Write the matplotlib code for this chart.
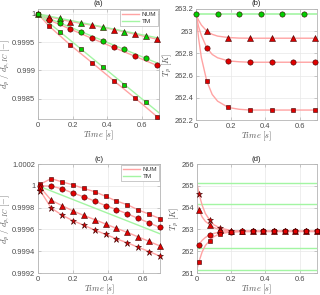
import matplotlib
matplotlib.use('Agg')
from matplotlib import pyplot as plt

plt.rcParams['font.family'] = ['Liberation Sans', 'DejaVu Sans']
plt.rcParams['mathtext.fontset'] = 'cm'

# ---- panel (a): diameter ratio, NUM markers / TM markers
t_num_a = [0.0625, 0.1875, 0.3125, 0.4375, 0.5625, 0.6875]
t_tm_a = [0.0, 0.125, 0.25, 0.375, 0.5, 0.625]
t_line_a = [0.0, 0.0625, 0.1875, 0.3125, 0.4375, 0.5625, 0.6875, 0.7]
num_a = {
    '^': [0.99995, 0.999865, 0.9998, 0.999724, 0.99964, 0.999553],
    'o': [0.999894, 0.99973, 0.999565, 0.999406, 0.999247, 0.999088],
    's': [0.999788, 0.999447, 0.999135, 0.998818, 0.998506, 0.998182],
}
num_line_a = {
    '^': [1.0, 0.99995, 0.999865, 0.9998, 0.999724, 0.99964, 0.999553, 0.999545],
    'o': [1.0, 0.999894, 0.99973, 0.999565, 0.999406, 0.999247, 0.999088, 0.99907],
    's': [1.0, 0.999788, 0.999447, 0.999135, 0.998818, 0.998506, 0.998182, 0.998165],
}
tm_a = {
    '^': [1.0, 0.99992, 0.999835, 0.999776, 0.99968, 0.999617],
    'o': [1.0, 0.999835, 0.999676, 0.999524, 0.99937, 0.999212],
    's': [1.0, 0.999676, 0.999376, 0.999059, 0.998747, 0.998435],
}
tm_line_t_a = [0.0, 0.7]
tm_line_a = {
    '^': [1.0, 0.999571],
    'o': [1.0, 0.999117],
    's': [1.0, 0.998247],
}

# ---- panel (b): droplet temperature
t_line_b = [0.0, 0.015, 0.03125, 0.0625, 0.09375, 0.125, 0.1875, 0.25, 0.3125, 0.7]
num_line_b = {
    '^': [263.15, 263.097, 263.054, 263.0, 262.971, 262.955, 262.942, 262.937, 262.936, 262.936],
    'o': [263.15, 263.04, 262.96, 262.85, 262.79, 262.76, 262.732, 262.724, 262.72, 262.72],
    's': [263.15, 262.935, 262.76, 262.55, 262.43, 262.37, 262.313, 262.297, 262.29, 262.29],
}
t_num_b = t_num_a
num_b = {
    '^': [263.0, 262.942, 262.936, 262.936, 262.936, 262.936],
    'o': [262.85, 262.732, 262.72, 262.72, 262.72, 262.72],
    's': [262.55, 262.313, 262.29, 262.29, 262.29, 262.29],
}
t_tm_b = t_tm_a
tm_b = [263.15, 263.15, 263.15, 263.15, 263.15, 263.15]
tm_line_b = [263.15, 263.15]

# ---- panel (c): diameter ratio, four initial temperatures
t_num_c = [0.0125, 0.075, 0.1375, 0.2, 0.2625, 0.325, 0.3875, 0.45,
           0.5125, 0.575, 0.6375, 0.7]
num_c = {
    's': [1.000015, 1.000066, 1.000036, 1.000009, 0.999976, 0.999946,
          0.999904, 0.99986, 0.999827, 0.999779, 0.99974, 0.999699],
    'o': [1.0, 0.999997, 0.999973, 0.999934, 0.999899, 0.99986,
          0.999818, 0.999782, 0.999743, 0.999701, 0.99966, 0.999618],
    '^': [0.999985, 0.999869, 0.999818, 0.99977, 0.999728, 0.99969,
          0.99965, 0.99961, 0.999573, 0.999531, 0.99949, 0.999448],
    '*': [0.999955, 0.999797, 0.999731, 0.99968, 0.999639, 0.999594,
          0.999555, 0.999513, 0.999478, 0.999436, 0.999397, 0.999355],
}
tm_line_t_c = [0.0, 0.7]
tm_line_c = [1.0, 0.99956]

# ---- panel (d): droplet temperature, four initial temperatures
t_line_d = [0.0, 0.0125, 0.03125, 0.05, 0.075, 0.1, 0.1375, 0.2, 0.2625, 0.7]
num_line_d = {
    '*': [265.15, 264.64, 264.11, 263.73, 263.43, 263.21, 263.06, 262.95, 262.92, 262.91],
    '^': [264.15, 263.9, 263.57, 263.37, 263.22, 263.08, 262.985, 262.93, 262.915, 262.91],
    'o': [262.15, 262.3, 262.5, 262.63, 262.75, 262.82, 262.88, 262.9, 262.91, 262.91],
    's': [261.15, 261.52, 261.97, 262.26, 262.49, 262.67, 262.81, 262.88, 262.9, 262.91],
}
t_num_d = t_num_c
num_d = {
    '*': [264.64, 263.43, 263.06, 262.95, 262.92] + [262.91] * 7,
    '^': [263.9, 263.22, 262.985, 262.93, 262.915] + [262.91] * 7,
    'o': [262.3, 262.75, 262.88, 262.9, 262.91] + [262.91] * 7,
    's': [261.52, 262.49, 262.81, 262.88, 262.9] + [262.91] * 7,
}
tm_line_t_d = [0.0, 0.7]
tm_levels_d = [265.15, 264.15, 262.15, 261.15]

x_ticks = [0, 0.2, 0.4, 0.6]
x_labels = ['0', '0.2', '0.4', '0.6']
y_ticks_a = [0.9985, 0.999, 0.9995, 1.0]
y_labels_a = ['0.9985', '0.999', '0.9995', '1']
y_ticks_b = [262.2, 262.4, 262.6, 262.8, 263.0, 263.2]
y_labels_b = ['262.2', '262.4', '262.6', '262.8', '263', '263.2']
y_ticks_c = [0.9992, 0.9994, 0.9996, 0.9998, 1.0, 1.0002]
y_labels_c = ['0.9992', '0.9994', '0.9996', '0.9998', '1', '1.0002']
y_ticks_d = [261, 262, 263, 264, 265, 266]
y_labels_d = ['261', '262', '263', '264', '265', '266']

NUM_LINE = '#ffa3a3'
TM_LINE = '#a3f5a3'
NUM_FILL = '#e00000'
TM_FILL = '#00d000'
EDGE = '#3a0000'
MS = {'s': 3.3, 'o': 3.8, '^': 3.8, '*': 5.0}

D_LABEL = r'$d_p\ /\ d_{p,IC}\ [-]$'
T_LABEL = r'$T_p\ [K]$'
TIME_LABEL = r'$Time\ [s]$'


def style_axes(ax, title, yticks, ylabels, ylim, ylabel):
    ax.set_xlim(0, 0.7)
    ax.set_ylim(*ylim)
    ax.set_xticks(x_ticks)
    ax.set_xticklabels(x_labels)
    ax.set_yticks(yticks)
    ax.set_yticklabels(ylabels)
    ax.grid(True, color='#e8e8e8', linewidth=0.5)
    ax.set_axisbelow(True)
    for sp in ax.spines.values():
        sp.set_color('#b4b4b4')
        sp.set_linewidth(0.6)
    ax.tick_params(direction='in', length=2, width=0.5, color='#b4b4b4',
                   labelsize=5.4, labelcolor='#4a4a4a', pad=2,
                   top=True, right=True)
    ax.set_title(title, fontsize=5.6, pad=2.5, color='#222222')
    ax.set_xlabel(TIME_LABEL, fontsize=6.0, labelpad=0, color='#555555')
    ax.set_ylabel(ylabel, fontsize=6.2, labelpad=0, color='#555555')


def put_legend(ax):
    h_num, = ax.plot([], [], color=NUM_LINE, lw=1.0, label='NUM')
    h_tm, = ax.plot([], [], color=TM_LINE, lw=1.0, label='TM')
    leg = ax.legend(handles=[h_num, h_tm], loc='upper right', fontsize=4.6,
                    frameon=True, fancybox=False, framealpha=1,
                    borderaxespad=0.15, handlelength=2.6, handletextpad=0.4,
                    borderpad=0.3, labelspacing=0.2)
    leg.get_frame().set_edgecolor('#b4b4b4')
    leg.get_frame().set_linewidth(0.5)
    for txt in leg.get_texts():
        txt.set_color('#333333')


def markers(ax, t, y, mk, fill):
    ax.plot(t, y, linestyle='none', marker=mk, markersize=MS[mk],
            markerfacecolor=fill, markeredgecolor=EDGE, markeredgewidth=0.4,
            clip_on=False, zorder=4)


fig = plt.figure(figsize=(3.2, 2.95), dpi=100)
ax_a = fig.add_axes([0.119, 0.597, 0.378, 0.373])
ax_b = fig.add_axes([0.6125, 0.593, 0.378, 0.377])
ax_c = fig.add_axes([0.119, 0.0745, 0.381, 0.3695])
ax_d = fig.add_axes([0.615, 0.0745, 0.375, 0.3695])

# (a)
for mk in ['^', 'o', 's']:
    ax_a.plot(t_line_a, num_line_a[mk], color=NUM_LINE, lw=1.0, zorder=2)
    ax_a.plot(tm_line_t_a, tm_line_a[mk], color=TM_LINE, lw=1.0, zorder=2)
for mk in ['^', 'o', 's']:
    markers(ax_a, t_num_a, num_a[mk], mk, NUM_FILL)
    markers(ax_a, t_tm_a, tm_a[mk], mk, TM_FILL)
style_axes(ax_a, '(a)', y_ticks_a, y_labels_a, (0.99814, 1.00009), D_LABEL)
put_legend(ax_a)

# (b)
ax_b.plot(tm_line_t_a, tm_line_b, color=TM_LINE, lw=1.2, zorder=2)
for mk in ['^', 'o', 's']:
    ax_b.plot(t_line_b, num_line_b[mk], color=NUM_LINE, lw=1.0, zorder=2)
for mk in ['^', 'o', 's']:
    markers(ax_b, t_num_b, num_b[mk], mk, NUM_FILL)
markers(ax_b, t_tm_b, tm_b, 'o', TM_FILL)
style_axes(ax_b, '(b)', y_ticks_b, y_labels_b, (262.2, 263.2), T_LABEL)

# (c)
ax_c.plot(tm_line_t_c, tm_line_c, color=TM_LINE, lw=1.0, zorder=2)
for mk in ['s', 'o', '^', '*']:
    ax_c.plot(t_num_c, num_c[mk], color=NUM_LINE, lw=1.0, zorder=2)
for mk in ['s', 'o', '^', '*']:
    markers(ax_c, t_num_c, num_c[mk], mk, NUM_FILL)
style_axes(ax_c, '(c)', y_ticks_c, y_labels_c, (0.9992, 1.0002), D_LABEL)
put_legend(ax_c)

# (d)
for lvl in tm_levels_d:
    ax_d.plot(tm_line_t_d, [lvl, lvl], color=TM_LINE, lw=1.0, zorder=2)
for mk in ['*', '^', 'o', 's']:
    ax_d.plot(t_line_d, num_line_d[mk], color=NUM_LINE, lw=1.0, zorder=2)
for mk in ['*', '^', 'o', 's']:
    markers(ax_d, t_num_d, num_d[mk], mk, NUM_FILL)
style_axes(ax_d, '(d)', y_ticks_d, y_labels_d, (261, 266), T_LABEL)

fig.savefig('out.png', dpi=100)
